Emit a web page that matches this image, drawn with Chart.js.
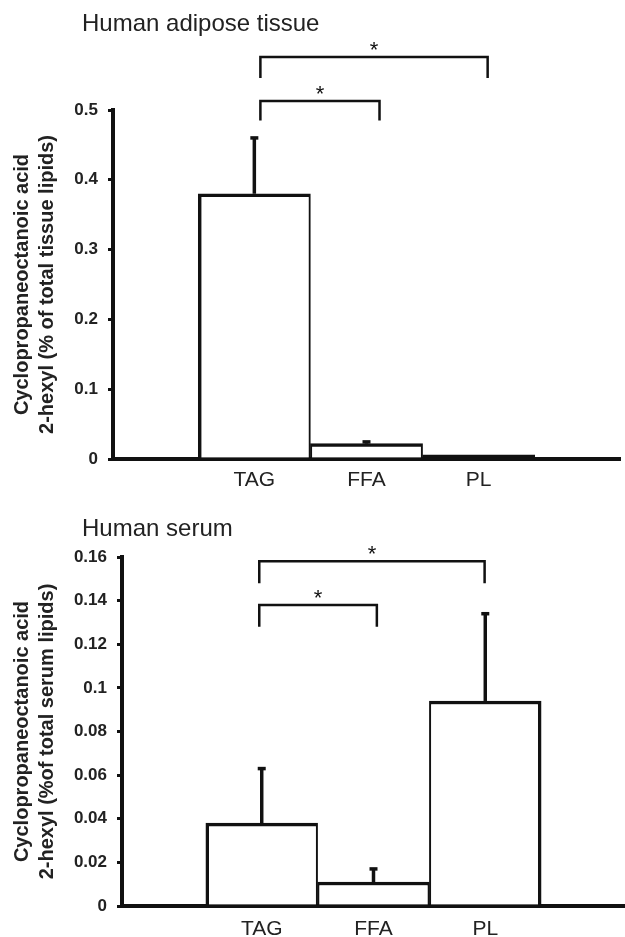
<!DOCTYPE html>
<html>
<head>
<meta charset="utf-8">
<script src="https://cdn.jsdelivr.net/npm/chart.js@4.4.0/dist/chart.umd.min.js"></script>
<style>
html, body { margin: 0; padding: 0; background: #fff; }
#wrap { position: relative; width: 625px; height: 937px; overflow: hidden; }
#wrap canvas { position: absolute; left: 0; }
</style>
</head>
<body>
<div id="wrap">
  <canvas id="adipose" width="625" height="495" style="top:0;width:625px;height:495px"></canvas>
  <canvas id="serum" width="625" height="442" style="top:495px;width:625px;height:442px"></canvas>
</div>
<script>
// values
var categories = ['TAG', 'FFA', 'PL'];

var adiposeMeans = [0.38, 0.022, 0.006];
var adiposeErrors = [0.08, 0.0025, 0];
var adiposeTicks = [0, 0.1, 0.2, 0.3, 0.4, 0.5];

var serumMeans = [0.038, 0.011, 0.094];
var serumErrors = [0.025, 0.006, 0.04];
var serumTicks = [0, 0.02, 0.04, 0.06, 0.08, 0.1, 0.12, 0.14, 0.16];

var FONT = '"Liberation Sans", Arial, Helvetica, sans-serif';
var INK = '#111';
var TEXT = '#222';

// error bars, significance brackets and panel title
var extras = {
  id: 'extras',
  afterDatasetsDraw: function (chart, args, opts) {
    var ctx = chart.ctx;
    var xs = chart.scales.x, ys = chart.scales.y;
    var meta = chart.getDatasetMeta(0);
    ctx.save();
    ctx.strokeStyle = INK;
    ctx.fillStyle = INK;
    ctx.lineCap = 'butt';

    ctx.lineWidth = 3.5;
    opts.errors.forEach(function (e, i) {
      if (!e) return;
      var bar = meta.data[i];
      var top = ys.getPixelForValue(opts.means[i] + e);
      ctx.beginPath();
      ctx.moveTo(bar.x, bar.y);
      ctx.lineTo(bar.x, top);
      ctx.stroke();
      ctx.beginPath();
      ctx.moveTo(bar.x - 4, top);
      ctx.lineTo(bar.x + 4, top);
      ctx.stroke();
    });

    ctx.lineWidth = 2.5;
    ctx.font = '22px ' + FONT;
    ctx.textAlign = 'center';
    ctx.textBaseline = 'alphabetic';
    opts.brackets.forEach(function (b) {
      var x1 = xs.getPixelForValue(b.from), x2 = xs.getPixelForValue(b.to);
      var yb = ys.getPixelForValue(b.y), yl = ys.getPixelForValue(b.leg);
      ctx.beginPath();
      ctx.moveTo(x1, yl);
      ctx.lineTo(x1, yb);
      ctx.lineTo(x2, yb);
      ctx.lineTo(x2, yl);
      ctx.stroke();
      ctx.fillText('*', (x1 + x2) / 2, yb);
    });

    ctx.fillStyle = TEXT;
    ctx.font = '24px ' + FONT;
    ctx.textAlign = 'left';
    ctx.textBaseline = 'middle';
    ctx.fillText(opts.title, 82, opts.titleY);
    ctx.restore();
  }
};

function makeChart(id, cfg) {
  var n = categories.length;
  return new Chart(document.getElementById(id), {
    type: 'bar',
    data: {
      datasets: [{
        data: cfg.means.map(function (v, i) { return { x: i + 1, y: v }; }),
        // a bar thinner than its outline just reads as a solid black strip
        backgroundColor: function (c) {
          var ys = c.chart.scales.y;
          if (!ys || !c.parsed) return '#fff';
          var h = ys.getPixelForValue(0) - ys.getPixelForValue(c.parsed.y);
          return h < 8 ? INK : '#fff';
        },
        borderColor: INK,
        borderWidth: function (c) {
          return {
            top: 3.5,
            bottom: 0,
            left: c.dataIndex === 0 ? 3.5 : 2,
            right: c.dataIndex === n - 1 ? 3.5 : 2
          };
        },
        barPercentage: 1,
        categoryPercentage: 1
      }]
    },
    options: {
      responsive: false,
      animation: false,
      devicePixelRatio: 1,
      layout: { padding: cfg.padding },
      plugins: {
        legend: { display: false },
        tooltip: { enabled: false },
        extras: {
          means: cfg.means,
          errors: cfg.errors,
          brackets: cfg.brackets,
          title: cfg.title,
          titleY: cfg.titleY
        }
      },
      scales: {
        x: {
          type: 'linear',
          offset: false,
          bounds: 'data',
          min: cfg.xMin,
          max: cfg.xMax,
          afterBuildTicks: function (s) {
            s.ticks = categories.map(function (c, i) { return { value: i + 1 }; });
          },
          ticks: {
            autoSkip: false,
            maxRotation: 0,
            padding: cfg.xPad,
            color: TEXT,
            font: { family: FONT, size: 21 },
            callback: function (v) { return categories[v - 1]; }
          },
          grid: { display: false, drawTicks: false, offset: false },
          border: { color: INK, width: 4 },
          afterFit: function (s) { s.height = cfg.xHeight; }
        },
        y: {
          min: 0,
          max: cfg.ticks[cfg.ticks.length - 1],
          afterBuildTicks: function (s) {
            s.ticks = cfg.ticks.map(function (v) { return { value: v }; });
          },
          ticks: {
            padding: 10,
            color: TEXT,
            font: { family: FONT, size: 17, weight: 'bold' },
            callback: function (v) { return String(v); }
          },
          grid: { drawOnChartArea: false, drawTicks: true, tickLength: 5, color: INK, lineWidth: 3 },
          border: { color: INK, width: 4 },
          title: {
            display: true,
            text: cfg.yTitle,
            color: TEXT,
            font: { family: FONT, size: 20, weight: 'bold', lineHeight: 1.25 },
            padding: { top: 9.5, bottom: 0 }
          },
          afterFit: function (s) { s.width = cfg.yWidth; }
        }
      }
    },
    plugins: [extras]
  });
}

makeChart('adipose', {
  means: adiposeMeans,
  errors: adiposeErrors,
  ticks: adiposeTicks,
  title: 'Human adipose tissue',
  titleY: 24,
  yTitle: ['Cyclopropaneoctanoic acid', '2-hexyl (% of total tissue lipids)'],
  brackets: [
    { from: 1.054, to: 2.116, y: 0.513, leg: 0.485 },
    { from: 1.054, to: 3.08, y: 0.576, leg: 0.546 }
  ],
  padding: { top: 110, right: 5, left: 0, bottom: 0 },
  xMin: -0.26, xMax: 4.26,
  xPad: 9, xHeight: 36, yWidth: 113
});

makeChart('serum', {
  means: serumMeans,
  errors: serumErrors,
  ticks: serumTicks,
  title: 'Human serum',
  titleY: 34,
  yTitle: ['Cyclopropaneoctanoic acid', '2-hexyl (%of total serum lipids)'],
  brackets: [
    { from: 0.978, to: 2.03, y: 0.138, leg: 0.128 },
    { from: 0.978, to: 2.994, y: 0.158, leg: 0.148 }
  ],
  padding: { top: 62, right: 0, left: 0, bottom: 0 },
  xMin: -0.25, xMax: 4.25,
  xPad: 11, xHeight: 31, yWidth: 122
});
</script>
</body>
</html>
